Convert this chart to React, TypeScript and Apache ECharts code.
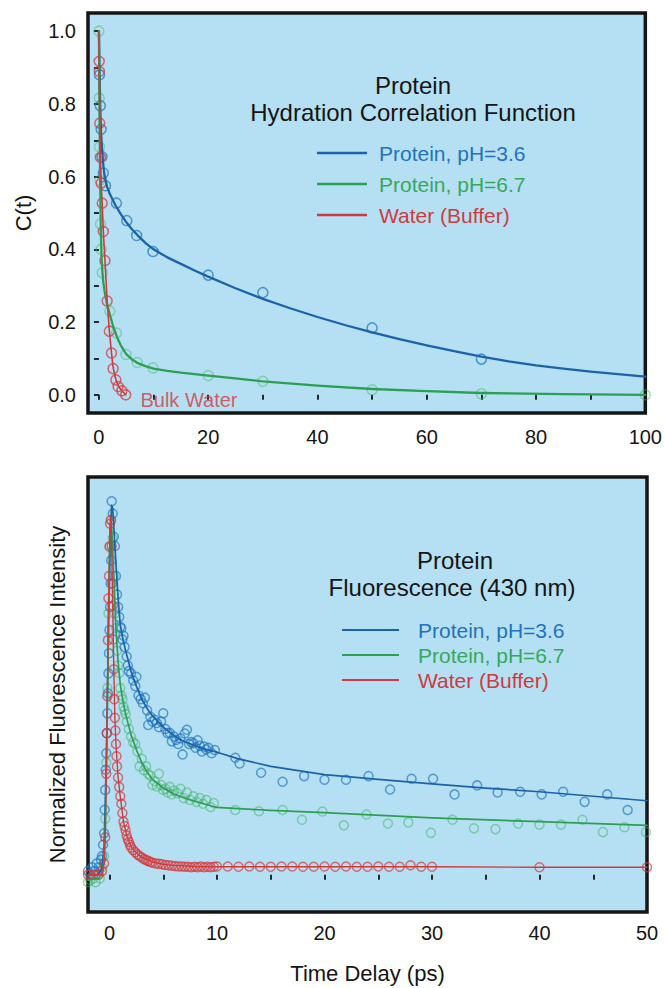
import React, { useEffect, useRef } from "react";
import * as echarts from "echarts";

// ---------- Top panel: hydration correlation function C(t) ----------
const hydBlueT = [0.1, 0.25, 0.4, 0.55, 0.8, 1.2, 3.2, 5.1, 6.9, 9.9, 20, 30, 50, 70];
const hydBlueC = [0.88, 0.795, 0.73, 0.655, 0.61, 0.575, 0.527, 0.479, 0.438, 0.394, 0.329, 0.281, 0.184, 0.098];
const hydBlueFitT = [0, 0.1, 0.2, 0.3, 0.4, 0.55, 0.7, 0.85, 1, 1.5, 2, 3, 4, 5, 6, 7, 8.5, 10, 12.5, 15, 17.5, 20, 25, 30, 35, 40, 45, 50, 55, 60, 65, 70, 75, 80, 85, 90, 95, 100];
const hydBlueFitC = [1.0, 0.9, 0.82, 0.76, 0.72, 0.68, 0.65, 0.625, 0.605, 0.572, 0.552, 0.522, 0.497, 0.475, 0.456, 0.44, 0.418, 0.4, 0.378, 0.36, 0.342, 0.325, 0.293, 0.264, 0.238, 0.214, 0.192, 0.172, 0.153, 0.136, 0.12, 0.105, 0.092, 0.081, 0.072, 0.064, 0.057, 0.05];

const hydGreenT = [0, 0.05, 0.1, 0.2, 0.3, 0.4, 0.6, 2.0, 3.2, 4.95, 7, 9.9, 20, 30, 50, 70, 100];
const hydGreenC = [1.0, 0.816, 0.682, 0.59, 0.47, 0.4, 0.336, 0.23, 0.17, 0.111, 0.089, 0.074, 0.053, 0.037, 0.014, 0.003, 0.0];
const hydGreenFitT = [0, 0.1, 0.2, 0.35, 0.5, 0.65, 0.8, 1, 1.2, 1.5, 2, 2.5, 3, 3.5, 4, 5, 6, 7, 8.5, 10, 12.5, 15, 20, 25, 30, 40, 50, 60, 70, 85, 100];
const hydGreenFitC = [1.0, 0.8, 0.62, 0.45, 0.37, 0.335, 0.31, 0.288, 0.27, 0.248, 0.22, 0.194, 0.172, 0.152, 0.136, 0.112, 0.098, 0.088, 0.079, 0.072, 0.066, 0.061, 0.053, 0.045, 0.037, 0.025, 0.016, 0.01, 0.005, 0.002, 0.0];

const hydRedT = [0.05, 0.08, 0.15, 0.25, 0.4, 0.6, 0.8, 1.1, 1.5, 1.9, 2.3, 2.6, 3.1, 3.5, 4.2, 4.9];
const hydRedC = [0.917, 0.889, 0.747, 0.653, 0.582, 0.527, 0.449, 0.369, 0.258, 0.175, 0.115, 0.072, 0.041, 0.023, 0.011, 0.0];
const hydRedFitT = [0, 0.05, 0.15, 0.25, 0.4, 0.6, 0.8, 1.1, 1.5, 1.9, 2.3, 2.6, 3.1, 3.5, 4.2, 4.9];
const hydRedFitC = [1.0, 0.92, 0.75, 0.655, 0.585, 0.525, 0.45, 0.37, 0.26, 0.177, 0.115, 0.075, 0.042, 0.025, 0.011, 0.0];

const topXTicks = [0, 10, 20, 30, 40, 50, 60, 70, 80, 90, 100];
const topXLabels = [0, 20, 40, 60, 80, 100];
const topYTicks = [0, 0.1, 0.2, 0.3, 0.4, 0.5, 0.6, 0.7, 0.8, 0.9, 1.0];
const topYLabels = [0, 0.2, 0.4, 0.6, 0.8, 1.0];

// ---------- Bottom panel: fluorescence at 430 nm (normalized) ----------
const flBlueT = [
  -2, -1.8, -1.6, -1.4, -1.2, -1.0, -0.8,
  -0.7, -0.6, -0.5, -0.45, -0.4, -0.35, -0.3, -0.25, -0.2, -0.15, -0.1, -0.05, 0, 0.05, 0.1, 0.15, 0.2,
  0.3, 0.4, 0.5, 0.6, 0.7, 0.8, 0.9, 1.0, 1.1, 1.2, 1.3, 1.4, 1.6, 1.7, 1.8, 2.0, 2.2, 2.4, 2.5, 2.7, 2.9,
  3.1, 3.3, 3.5, 3.6, 3.8, 4.0, 4.2, 4.4, 4.6, 4.8, 5.0, 5.2, 5.4, 5.6, 5.8, 6.0, 6.2, 6.4, 6.6, 6.8,
  7.0, 7.2, 7.4, 7.6, 7.8, 8.0, 8.2, 8.4, 8.6, 8.8, 9.0, 9.2, 9.5, 9.8,
  11.7, 12.1, 14.1, 16.1, 18.1, 20, 22, 24.1, 26.1, 28.1, 30.1, 32.1, 34.2, 36.1, 38.2, 40.2, 42.2, 44.2, 46.3, 48.2,
];
const flBlueV = [
  0.01, 0.0, 0.02, 0.01, 0.03, 0.02, 0.04,
  0.05, 0.08, 0.111, 0.174, 0.227, 0.281, 0.325, 0.379, 0.432, 0.486, 0.539, 0.593, 0.655, 0.717, 0.78, 0.842, 1.0,
  0.967, 0.905, 0.88, 0.8, 0.75, 0.717, 0.69, 0.664, 0.66, 0.63, 0.64, 0.61, 0.584, 0.56, 0.545, 0.539, 0.52, 0.505, 0.53, 0.48, 0.47,
  0.459, 0.474, 0.44, 0.401, 0.423, 0.41, 0.415, 0.406, 0.395, 0.41, 0.432, 0.39, 0.379, 0.38, 0.357, 0.37, 0.361, 0.35, 0.365, 0.322,
  0.378, 0.388, 0.35, 0.355, 0.352, 0.34, 0.36, 0.345, 0.33, 0.343, 0.335, 0.34, 0.325, 0.334,
  0.313, 0.298, 0.273, 0.249, 0.264, 0.254, 0.254, 0.264, 0.228, 0.257, 0.257, 0.215, 0.239, 0.22, 0.222, 0.215, 0.222, 0.195, 0.215, 0.173,
];
const flBlueFitT = [-2, -1, -0.7, -0.5, -0.3, -0.1, 0.1, 0.2, 0.3, 0.5, 0.8, 1.0, 1.25, 1.5, 2, 2.5, 3, 3.5, 4, 5, 6, 7, 8, 9, 10, 12, 15, 20, 25, 30, 35, 40, 45, 50];
const flBlueFitV = [0.0, 0.0, 0.02, 0.08, 0.3, 0.65, 0.93, 0.99, 0.98, 0.88, 0.74, 0.67, 0.63, 0.6, 0.545, 0.505, 0.47, 0.445, 0.425, 0.395, 0.372, 0.356, 0.345, 0.335, 0.328, 0.31, 0.29, 0.268, 0.255, 0.243, 0.232, 0.222, 0.21, 0.198];

const flGreenT = [
  -2, -1.8, -1.5, -1.3, -1.1, -0.9, -0.7,
  -0.5, -0.4, -0.3, -0.2, -0.1, 0, 0.1,
  0.3, 0.4, 0.5, 0.6, 0.7, 0.8, 0.9, 1.0, 1.1, 1.2, 1.3, 1.4, 1.5, 1.6, 1.8, 2.0, 2.2, 2.4, 2.6, 2.8,
  3.0, 3.2, 3.4, 3.6, 3.8, 4.0, 4.2, 4.4, 4.6, 4.8, 5.0, 5.2, 5.4, 5.6, 5.8, 6.0, 6.3, 6.6, 6.9,
  7.2, 7.5, 7.8, 8.1, 8.4, 8.7, 9.0, 9.4, 9.7,
  11.7, 13.9, 16.1, 17.9, 19.8, 21.8, 23.9, 25.9, 27.8, 29.9, 31.9, 33.9, 35.9, 38, 40, 42, 44, 45.9, 47.9, 49.9,
];
const flGreenV = [
  -0.02, -0.015, -0.01, -0.02, 0.0, -0.01, 0.02,
  0.05, 0.15, 0.3, 0.5, 0.7, 0.88, 0.95,
  0.9, 0.8, 0.7, 0.66, 0.6, 0.56, 0.54, 0.5, 0.48, 0.47, 0.45, 0.44, 0.43, 0.41, 0.39, 0.37, 0.355, 0.35, 0.33, 0.29,
  0.31, 0.28, 0.29, 0.27, 0.265, 0.24, 0.25, 0.236, 0.27, 0.24, 0.227, 0.23, 0.22, 0.235, 0.215, 0.225, 0.218, 0.23, 0.205,
  0.22, 0.2, 0.21, 0.195, 0.205, 0.19, 0.2, 0.181, 0.192,
  0.173, 0.17, 0.173, 0.147, 0.169, 0.132, 0.161, 0.137, 0.14, 0.112, 0.147, 0.124, 0.122, 0.137, 0.134, 0.134, 0.147, 0.114, 0.127, 0.114,
];
const flGreenFitT = [-2, -1, -0.6, -0.4, -0.2, 0, 0.1, 0.2, 0.4, 0.6, 0.8, 1, 1.25, 1.5, 2, 2.5, 3, 3.5, 4, 5, 6, 7, 8, 9, 10, 15, 20, 30, 40, 50];
const flGreenFitV = [-0.015, -0.01, 0.01, 0.1, 0.45, 0.85, 0.95, 0.93, 0.8, 0.66, 0.57, 0.51, 0.465, 0.43, 0.375, 0.335, 0.3, 0.275, 0.255, 0.232, 0.216, 0.205, 0.196, 0.188, 0.18, 0.172, 0.166, 0.152, 0.142, 0.132];

const flRedT = [
  -2, -1.5, -1, -0.7,
  -0.5, -0.4, -0.3, -0.25, -0.2, -0.15, -0.1, -0.05, 0, 0.05,
  0.15, 0.2, 0.25, 0.3, 0.35, 0.4, 0.45, 0.5, 0.55, 0.6, 0.65, 0.7, 0.8, 0.9, 1.0, 1.1, 1.2, 1.3, 1.4, 1.5,
  1.6, 1.7, 1.8, 1.9, 2.0, 2.2, 2.4, 2.6, 2.8, 3.0, 3.2, 3.4, 3.6, 3.8, 4.0, 4.3, 4.6, 4.9, 5.2, 5.5, 5.8,
  6.1, 6.4, 6.7, 7.0, 7.3, 7.6, 7.9, 8.2, 8.5, 8.8, 9.1, 9.4, 9.7, 10,
  11, 12, 13, 14, 15, 16, 17, 18, 19, 20, 21, 22, 23, 24, 25, 26, 27, 28, 29, 30, 40, 50,
];
const flRedV = [
  0.0, 0.0, 0.0, 0.01,
  0.03, 0.1, 0.27, 0.379, 0.478, 0.628, 0.74, 0.8, 0.878, 0.94,
  0.95, 0.88, 0.78, 0.72, 0.63, 0.55, 0.47, 0.42, 0.386, 0.35, 0.317, 0.29, 0.26, 0.235, 0.21, 0.19, 0.165, 0.142, 0.13, 0.118,
  0.105, 0.095, 0.088, 0.08, 0.073, 0.066, 0.06, 0.054, 0.05, 0.046, 0.042, 0.039, 0.037, 0.034, 0.032, 0.03, 0.029, 0.028, 0.026, 0.025, 0.024,
  0.023, 0.022, 0.022, 0.021, 0.021, 0.02, 0.021, 0.02, 0.022, 0.02, 0.021, 0.02, 0.021, 0.022,
  0.022, 0.021, 0.022, 0.021, 0.021, 0.022, 0.022, 0.021, 0.021, 0.022, 0.021, 0.022, 0.021, 0.021, 0.022, 0.021, 0.021, 0.025, 0.021, 0.021, 0.02, 0.02,
];
const flRedFitT = [-2, -0.7, -0.5, -0.4, -0.3, -0.2, -0.1, 0.05, 0.12, 0.2, 0.3, 0.4, 0.5, 0.6, 0.8, 1, 1.3, 1.6, 2, 2.5, 3, 4, 5, 6, 8, 10, 20, 30, 40, 50];
const flRedFitV = [0.0, 0.0, 0.03, 0.1, 0.25, 0.48, 0.72, 0.93, 0.96, 0.88, 0.72, 0.55, 0.42, 0.35, 0.26, 0.21, 0.142, 0.105, 0.075, 0.058, 0.047, 0.034, 0.028, 0.025, 0.022, 0.021, 0.021, 0.021, 0.02, 0.02];

const botXTicks = [0, 5, 10, 15, 20, 25, 30, 35, 40, 45, 50];
const botXLabels = [0, 10, 20, 30, 40, 50];

const legendNames = ["Protein, pH=3.6", "Protein, pH=6.7", "Water (Buffer)"];

const BLUE = "#1b62aa";
const GREEN = "#2d9f52";
const RED = "#d13a3c";
const BLUE_TXT = "#2272bd";
const GREEN_TXT = "#36a85c";
const RED_TXT = "#cf3a3e";
const FONT = "'Liberation Sans', Arial, Helvetica, sans-serif";
const INK = "#151515";

const pairs = (xs: number[], ys: number[]) => xs.map((x, i) => [x, ys[i]]);

export default function App() {
  const ref = useRef<HTMLDivElement>(null);
  useEffect(() => {
    if (!ref.current) return;
    const chart = echarts.init(ref.current, undefined, { renderer: "svg" });

    const redTop: any[] = pairs(hydRedT, hydRedC);
    const last = redTop.length - 1;
    redTop[last] = {
      value: redTop[last],
      label: {
        show: true,
        formatter: "Bulk Water",
        position: "right",
        distance: 9,
        offset: [0, 5],
        color: RED_TXT,
        fontSize: 20,
        fontFamily: FONT,
      },
    };

    const lineSeries = (name: string, color: string, data: number[][], gi: number, width: number) => ({
      type: "line",
      name,
      data,
      xAxisIndex: gi,
      yAxisIndex: gi,
      smooth: false,
      showSymbol: false,
      color,
      lineStyle: { color, width, join: "round", cap: "round" },
      z: 4,
      silent: true,
    });
    const scatterSeries = (name: string, color: string, data: any[], gi: number, size: number) => ({
      type: "scatter",
      name,
      data,
      xAxisIndex: gi,
      yAxisIndex: gi,
      symbol: "circle",
      symbolSize: size,
      itemStyle: { color: "rgba(0,0,0,0)", borderColor: color, borderWidth: 1.5 },
      z: 3,
      silent: true,
    });

    const tickStyle = { show: true, inside: false, length: 5, lineStyle: { color: INK, width: 1.8 } };
    const labelStyle = { color: INK, fontSize: 20, fontFamily: FONT };

    const option: any = {
      animation: false,
      backgroundColor: "#ffffff",
      grid: [
        { left: 88, top: 13, width: 559, height: 400, show: true, backgroundColor: "#b5e0f3", borderColor: INK, borderWidth: 3.5 },
        { left: 88, top: 477, width: 559, height: 435, show: true, backgroundColor: "#b5e0f3", borderColor: INK, borderWidth: 3.5 },
      ],
      xAxis: [
        {
          type: "value",
          gridIndex: 0,
          min: -2,
          max: 100,
          axisLine: { show: false },
          splitLine: { show: false },
          axisTick: { ...tickStyle, customValues: topXTicks },
          axisLabel: { ...labelStyle, margin: 14, customValues: topXLabels },
        },
        {
          type: "value",
          gridIndex: 1,
          min: -2,
          max: 50,
          axisLine: { show: false },
          splitLine: { show: false },
          axisTick: { ...tickStyle, customValues: botXTicks },
          axisLabel: { ...labelStyle, margin: 11, customValues: botXLabels },
          name: "Time Delay (ps)",
          nameLocation: "middle",
          nameGap: 50,
          nameTextStyle: { color: INK, fontSize: 22, fontFamily: FONT },
        },
      ],
      yAxis: [
        {
          type: "value",
          gridIndex: 0,
          min: -0.05,
          max: 1.05,
          axisLine: { show: false },
          splitLine: { show: false },
          axisTick: { ...tickStyle, customValues: topYTicks },
          axisLabel: { ...labelStyle, margin: 12, customValues: topYLabels, formatter: (v: number) => v.toFixed(1) },
          name: "C(t)",
          nameLocation: "middle",
          nameGap: 54,
          nameTextStyle: { color: INK, fontSize: 22, fontFamily: FONT },
        },
        {
          type: "value",
          gridIndex: 1,
          min: -0.1,
          max: 1.065,
          axisLine: { show: false },
          splitLine: { show: false },
          axisTick: { show: false },
          axisLabel: { show: false },
          name: "Normalized Fluorescence Intensity",
          nameLocation: "middle",
          nameGap: 20,
          nameTextStyle: { color: INK, fontSize: 22, fontFamily: FONT },
        },
      ],
      legend: [
        {
          orient: "vertical",
          left: 312,
          top: 137,
          icon: "rect",
          itemWidth: 50,
          itemHeight: 2.5,
          itemGap: 9,
          selectedMode: false,
          textStyle: { fontSize: 21, lineHeight: 22, fontFamily: FONT, padding: [0, 0, 0, 7] },
          data: [
            { name: legendNames[0], textStyle: { color: BLUE_TXT } },
            { name: legendNames[1], textStyle: { color: GREEN_TXT } },
            { name: legendNames[2], textStyle: { color: RED_TXT } },
          ],
        },
        {
          orient: "vertical",
          left: 337,
          top: 614,
          icon: "rect",
          itemWidth: 57,
          itemHeight: 2,
          itemGap: 3,
          selectedMode: false,
          textStyle: { fontSize: 21, lineHeight: 22, fontFamily: FONT, padding: [0, 0, 0, 14] },
          data: [
            { name: legendNames[0], textStyle: { color: BLUE_TXT } },
            { name: legendNames[1], textStyle: { color: GREEN_TXT } },
            { name: legendNames[2], textStyle: { color: RED_TXT } },
          ],
        },
      ],
      graphic: [
        { type: "text", x: 413, y: 85, style: { text: "Protein", align: "center", verticalAlign: "middle", fontSize: 24, fontFamily: FONT, fill: INK } },
        { type: "text", x: 413, y: 112, style: { text: "Hydration Correlation Function", align: "center", verticalAlign: "middle", fontSize: 24, fontFamily: FONT, fill: INK } },
        { type: "text", x: 455, y: 560, style: { text: "Protein", align: "center", verticalAlign: "middle", fontSize: 24, fontFamily: FONT, fill: INK } },
        { type: "text", x: 452, y: 587, style: { text: "Fluorescence (430 nm)", align: "center", verticalAlign: "middle", fontSize: 24, fontFamily: FONT, fill: INK } },
      ],
      series: [
        scatterSeries("hyd blue", "rgba(30,115,190,0.9)", pairs(hydBlueT, hydBlueC), 0, 10),
        scatterSeries("hyd green", "rgba(60,180,95,0.55)", pairs(hydGreenT, hydGreenC), 0, 10),
        scatterSeries("hyd red", "rgba(215,50,55,0.9)", redTop, 0, 10),
        lineSeries(legendNames[0], BLUE, pairs(hydBlueFitT, hydBlueFitC), 0, 2.3),
        lineSeries(legendNames[1], GREEN, pairs(hydGreenFitT, hydGreenFitC), 0, 2.3),
        lineSeries(legendNames[2], RED, pairs(hydRedFitT, hydRedFitC), 0, 1.6),

        scatterSeries("fl green", "rgba(55,175,90,0.6)", pairs(flGreenT, flGreenV), 1, 9),
        scatterSeries("fl blue", "rgba(30,115,190,0.85)", pairs(flBlueT, flBlueV), 1, 9),
        scatterSeries("fl red", "rgba(215,50,55,0.85)", pairs(flRedT, flRedV), 1, 9),
        lineSeries(legendNames[0], BLUE, pairs(flBlueFitT, flBlueFitV), 1, 1.7),
        lineSeries(legendNames[1], GREEN, pairs(flGreenFitT, flGreenFitV), 1, 1.7),
        lineSeries(legendNames[2], RED, pairs(flRedFitT, flRedFitV), 1, 1.4),
      ],
    };
    chart.setOption(option);
    return () => chart.dispose();
  }, []);

  return <div ref={ref} style={{ position: "fixed", left: 0, top: 0, width: 665, height: 988 }} />;
}
